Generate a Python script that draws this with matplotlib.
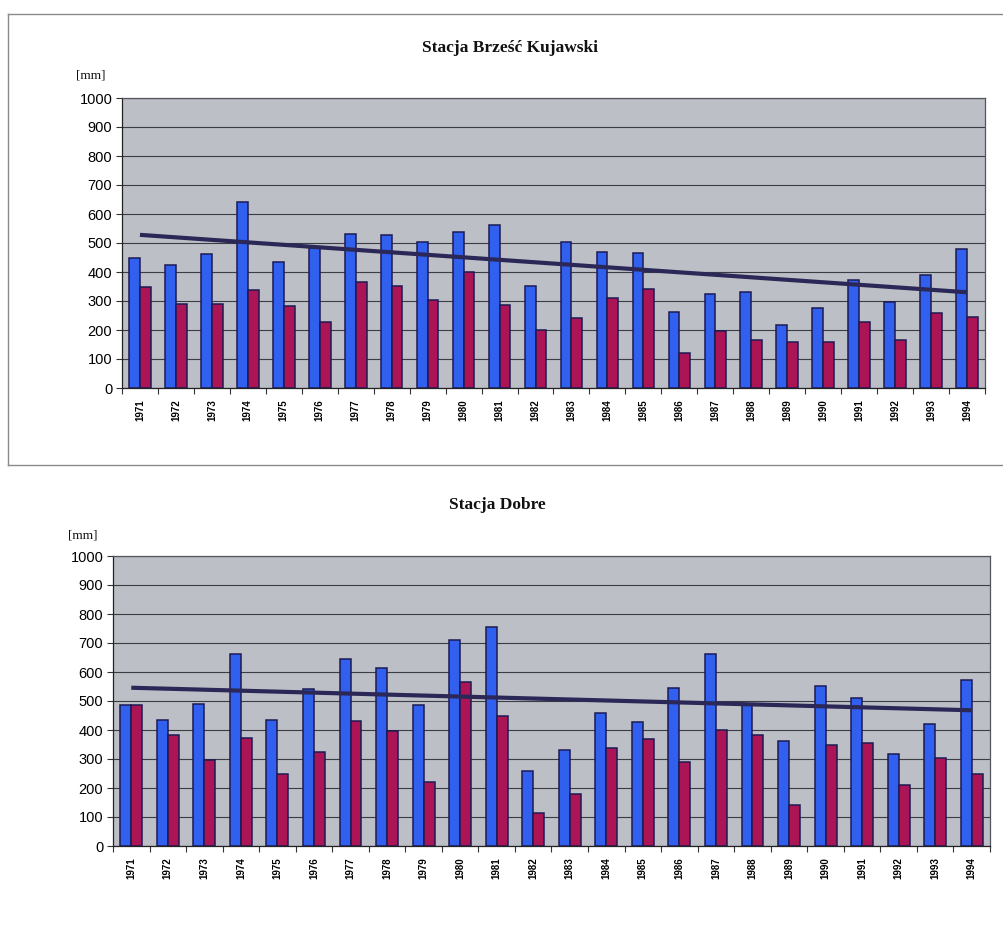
"""Opady roczne na stacjach Brześć Kujawski i Dobre, 1971-1994."""
import numpy as np
import matplotlib
matplotlib.use("Agg")
import matplotlib.pyplot as plt
from matplotlib.lines import Line2D

years = [str(y) for y in range(1971, 1995)]

# Stacja Brześć Kujawski
brzesc_blue = [450, 424, 462, 642, 436, 483, 532, 528, 505, 537, 561, 351,
               504, 468, 465, 261, 323, 331, 218, 276, 371, 298, 391, 481]
brzesc_red = [348, 290, 290, 339, 283, 228, 364, 352, 305, 400, 285, 200,
              241, 310, 343, 119, 197, 166, 157, 160, 226, 165, 257, 246]

# Stacja Dobre
dobre_blue = [485, 433, 488, 662, 436, 543, 645, 615, 485, 711, 756, 257,
              332, 457, 429, 546, 661, 488, 361, 553, 511, 316, 422, 573]
dobre_red = [485, 382, 298, 371, 249, 324, 431, 396, 219, 564, 450, 115,
             178, 339, 368, 290, 399, 384, 142, 350, 355, 212, 303, 250]

BLUE = "#3160ee"
RED = "#ab1556"
EDGE = "#1c1a55"
BG = "#bcbfc6"
TREND = "#2b2858"


def panel(fig, rect, title, title_xy, mm_xy, blue, red):
    ax = fig.add_axes(rect)
    ax.set_facecolor(BG)
    x = np.arange(len(years))
    w = 0.3
    ax.bar(x - w / 2, blue, w, color=BLUE, edgecolor=EDGE, linewidth=1.1, zorder=3)
    ax.bar(x + w / 2, red, w, color=RED, edgecolor=EDGE, linewidth=1.1, zorder=3)

    # linia trendu (liniowa, dla serii niebieskiej)
    a, b = np.polyfit(x, blue, 1)
    ax.plot([x[0], x[-1]], [a * x[0] + b, a * x[-1] + b], color=TREND,
            linewidth=3.0, zorder=4, solid_capstyle="butt")

    ax.set_xlim(-0.5, len(years) - 0.5)
    ax.set_ylim(0, 1000)
    ax.set_yticks(range(0, 1001, 100))
    ax.yaxis.grid(True, color="#3c3c44", linewidth=0.8, zorder=1)
    ax.set_axisbelow(True)
    ax.set_xticks(x)
    ax.set_xticklabels(years, rotation=90, fontsize=7, fontweight="bold",
                       family="Liberation Sans")
    ax.set_xticks(np.arange(-0.5, len(years), 1), minor=True)
    ax.tick_params(axis="x", which="major", length=0, pad=8)
    ax.tick_params(axis="x", which="minor", length=4, width=0.8, color="#333")
    ax.tick_params(axis="y", length=4, width=0.8, color="#333", pad=3)
    for lab in ax.get_yticklabels():
        lab.set_fontsize(10.5)
        lab.set_family("Liberation Sans")
    for s in ax.spines.values():
        s.set_color("#555560")
        s.set_linewidth(0.9)
    ax.spines["left"].set_color("#222")
    ax.spines["bottom"].set_color("#222")

    fig.text(title_xy[0], title_xy[1], title, ha="center", va="center",
             fontsize=12.5, fontweight="bold", family="Liberation Serif",
             color="#111")
    fig.text(mm_xy[0], mm_xy[1], "[mm]", ha="left", va="center",
             fontsize=9.5, family="Liberation Serif", color="#111")
    return ax


fig = plt.figure(figsize=(10.04, 9.35), dpi=100)
W, H = 1004, 935

panel(fig, [122 / W, 1 - 388 / H, (985 - 122) / W, 290 / H],
      "Stacja Brześć Kujawski", (510 / W, 1 - 48 / H), (76 / W, 1 - 75 / H),
      brzesc_blue, brzesc_red)
panel(fig, [113 / W, 1 - 846 / H, (990 - 113) / W, 290 / H],
      "Stacja Dobre", (497 / W, 1 - 505 / H), (68 / W, 1 - 535 / H),
      dobre_blue, dobre_red)

# ramka wykresu (skan)
for xs, ys in [([8, W], [14, 14]), ([8, 8], [14, 465]), ([8, W], [465, 465])]:
    fig.add_artist(Line2D([v / W for v in xs], [1 - v / H for v in ys],
                          color="#8a8a8a", linewidth=1.0))

fig.savefig("out.png", dpi=100)
